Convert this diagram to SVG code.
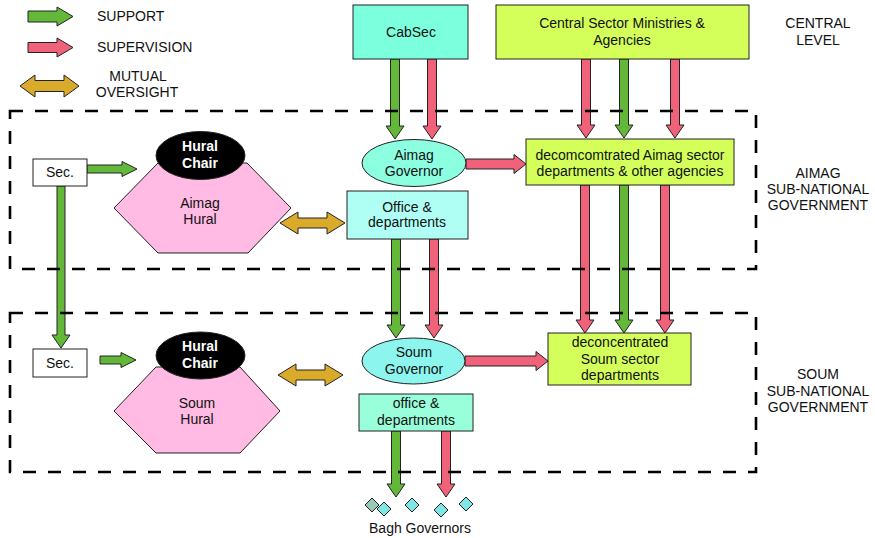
<svg xmlns="http://www.w3.org/2000/svg" width="875" height="538" viewBox="0 0 875 538">
<style>
text{font-family:"Liberation Sans",Arial,sans-serif;font-size:14px;fill:#111;text-anchor:middle}
.l{text-anchor:start}
.w{fill:#fff;font-weight:bold}
.g{fill:#63B83A;stroke:#222;stroke-width:1}
.p{fill:#EF6279;stroke:#222;stroke-width:1}
.o{fill:#DAAA2A;stroke:#222;stroke-width:1}
.n{stroke:#222;stroke-width:1}
.dash{fill:none;stroke:#000;stroke-width:2.6;stroke-dasharray:13 12}
.dm{stroke:#222;stroke-width:1;fill:#80E6E6}
</style>
<rect width="875" height="538" fill="#fff"/>

<g id="legend">
<polygon class="g" points="28,11 57,11 57,7 73,16.5 57,26 57,22 28,22"/>
<text class="l" x="97" y="21">SUPPORT</text>
<polygon class="p" points="28,42.5 57,42.5 57,38 73,47.5 57,57 57,52.5 28,52.5"/>
<text class="l" x="97" y="52">SUPERVISION</text>
<polygon class="o" points="20,86 35,75 35,80.5 64,80.5 64,75 79,86 64,97 64,91.5 35,91.5 35,97"/>
<text x="138" y="81">MUTUAL</text>
<text x="137" y="97">OVERSIGHT</text>
</g>

<g id="levels">
<text x="818" y="28">CENTRAL</text>
<text x="818" y="45">LEVEL</text>
<text x="818" y="178">AIMAG</text>
<text x="818" y="194">SUB-NATIONAL</text>
<text x="818" y="210">GOVERNMENT</text>
<text x="818" y="379">SOUM</text>
<text x="818" y="396">SUB-NATIONAL</text>
<text x="818" y="412">GOVERNMENT</text>
</g>

<g id="connectors">
<polygon class="g" points="390.5,59 399.5,59 399.5,126 404,126 395,139 386,126 390.5,126"/>
<polygon class="p" points="427.5,59 436.5,59 436.5,126 441,126 432,139 423,126 427.5,126"/>
<polygon class="p" points="581.5,59 590.5,59 590.5,125 595,125 586,138 577,125 581.5,125"/>
<polygon class="g" points="619.5,59 628.5,59 628.5,125 633,125 624,138 615,125 619.5,125"/>
<polygon class="p" points="670.5,59 679.5,59 679.5,125 684,125 675,138 666,125 670.5,125"/>
<polygon class="p" points="580.5,185 589.5,185 589.5,320 594,320 585,333 576,320 580.5,320"/>
<polygon class="g" points="619.5,185 628.5,185 628.5,320 633,320 624,333 615,320 619.5,320"/>
<polygon class="p" points="660.5,185 669.5,185 669.5,320 674,320 665,333 656,320 660.5,320"/>
<polygon class="g" points="391.5,239 400.5,239 400.5,325 405,325 396,338 387,325 391.5,325"/>
<polygon class="p" points="429.5,239 438.5,239 438.5,325 443,325 434,338 425,325 429.5,325"/>
<polygon class="g" points="391.5,431 400.5,431 400.5,484 405,484 396,497 387,484 391.5,484"/>
<polygon class="p" points="441.5,431 450.5,431 450.5,484 455,484 446,497 437,484 441.5,484"/>
<polygon class="g" points="57,186 65,186 65,335 70,335 61,348 52,335 57,335"/>
<polygon class="p" points="466,159 514,159 514,154.5 526,164 514,173.5 514,169 466,169"/>
<polygon class="p" points="465,356 536,356 536,351.5 548,361 536,370.5 536,366 465,366"/>
<polygon class="g" points="87,165 122,165 122,161.5 137,169 122,176.5 122,173 87,173"/>
<polygon class="g" points="100,356 121,356 121,352.5 136,360 121,367.5 121,364 100,364"/>
<polygon class="o" points="280,223 298,212 298,218 327,218 327,212 345,223 327,234 327,228 298,228 298,234"/>
<polygon class="o" points="278,375 296,364 296,370 325,370 325,364 343,375 325,386 325,380 296,380 296,386"/>
</g>

<g id="cabsec">
<rect class="n" x="353" y="5" width="115" height="54" fill="#7CFFDD"/>
<text x="411" y="37">CabSec</text>
</g>
<g id="central">
<rect class="n" x="496" y="5" width="253" height="54" fill="#D4FF5A"/>
<text x="622" y="28">Central Sector Ministries &amp;</text>
<text x="622" y="45">Agencies</text>
</g>
<g id="aimag-governor">
<ellipse class="n" cx="414" cy="163" rx="52" ry="23.5" fill="#8CFFE0"/>
<text x="414" y="160">Aimag</text>
<text x="414" y="176">Governor</text>
</g>
<g id="aimag-sector">
<rect class="n" x="526" y="139" width="208" height="46" fill="#D4FF5A"/>
<text x="630" y="160">decomcomtrated Aimag sector</text>
<text x="630" y="176">departments &amp; other agencies</text>
</g>
<g id="aimag-office">
<rect class="n" x="347" y="191" width="121" height="48" fill="#AFFFF5"/>
<text x="407" y="212">Office &amp;</text>
<text x="407" y="227">departments</text>
</g>
<g id="aimag-sec">
<rect class="n" x="33" y="159" width="54" height="27" fill="#fff"/>
<text x="60" y="177">Sec.</text>
</g>
<g id="aimag-hural">
<polygon class="n" points="114,208 158,163 247,163 291,208 248,253 158,253" fill="#FFBBE3"/>
<text x="200" y="208">Aimag</text>
<text x="200" y="224">Hural</text>
</g>
<g id="aimag-chair">
<ellipse class="n" cx="200.5" cy="155.5" rx="44.5" ry="24" fill="#000"/>
<text class="w" x="200" y="151">Hural</text>
<text class="w" x="200" y="168">Chair</text>
</g>

<g id="soum-sec">
<rect class="n" x="33" y="349" width="54" height="28" fill="#fff"/>
<text x="60" y="368">Sec.</text>
</g>
<g id="soum-hural">
<polygon class="n" points="114,411 156,367 240,367 280,411 240,453 156,453" fill="#FFBBE3"/>
<text x="197" y="408">Soum</text>
<text x="197" y="424">Hural</text>
</g>
<g id="soum-chair">
<ellipse class="n" cx="200.5" cy="355.5" rx="44.5" ry="23.5" fill="#000"/>
<text class="w" x="200" y="351">Hural</text>
<text class="w" x="200" y="368">Chair</text>
</g>
<g id="soum-governor">
<ellipse class="n" cx="413.5" cy="361" rx="51.5" ry="23" fill="#8BF5EE"/>
<text x="414" y="357">Soum</text>
<text x="414" y="374">Governor</text>
</g>
<g id="soum-sector">
<rect class="n" x="548" y="333" width="143" height="52" fill="#D4FF5A"/>
<text x="620" y="347">deconcentrated</text>
<text x="620" y="364">Soum sector</text>
<text x="620" y="380">departments</text>
</g>
<g id="soum-office">
<rect class="n" x="359" y="394" width="114" height="37" fill="#99FFDA"/>
<text x="416" y="408">office &amp;</text>
<text x="416" y="425">departments</text>
</g>
<g id="bagh-governors">
<polygon class="n" points="372,498 379,505 372,512 365,505" fill="#99C8B8"/>
<polygon class="dm" points="384,502 391,509 384,516 377,509"/>
<polygon class="dm" points="412,498 419,505 412,512 405,505"/>
<polygon class="dm" points="441,503 448,510 441,517 434,510"/>
<polygon class="dm" points="466,497 473,504 466,511 459,504"/>
<text x="420" y="533">Bagh Governors</text>
</g>

<g id="regions">
<rect class="dash" x="10" y="111" width="746" height="158"/>
<rect class="dash" x="10" y="313" width="746" height="159"/>
</g>
</svg>
